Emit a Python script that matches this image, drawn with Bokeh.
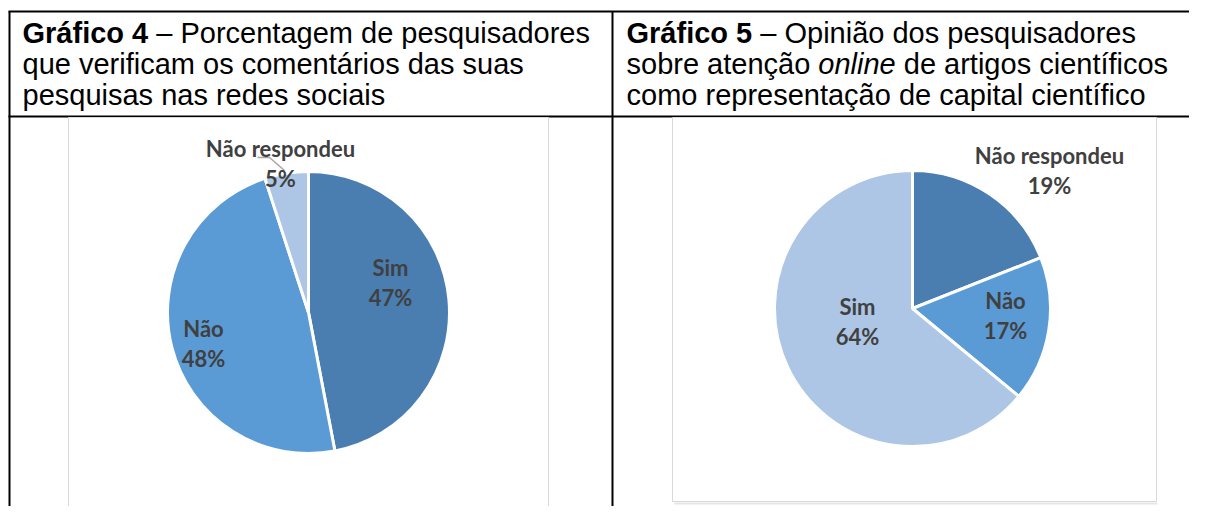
from bokeh.plotting import figure
from bokeh.models import Range1d, ColumnDataSource
from bokeh.core.properties import value
from bokeh.embed import file_html
from bokeh.resources import INLINE
import math

# ---------------- data ----------------
pie1_categories = ["Sim", "Não", "Não respondeu"]
pie1_values = [47, 48, 5]
pie2_categories = ["Não respondeu", "Não", "Sim"]
pie2_values = [19, 17, 64]

title1_bold = "Gráfico 4"
title1_rest = ["– Porcentagem de pesquisadores",
               "que verificam os comentários das suas",
               "pesquisas nas redes sociais"]
title2_bold = "Gráfico 5"
title2_rest = "– Opinião dos pesquisadores"
title2_line2 = ["sobre atenção", "online", "de artigos científicos"]
title2_line3 = "como representação de capital científico"

# ---------------- layout / style ----------------
W, H = 1189, 506
def Y(y):
    return H - y

DARK = "#4a7eb1"
MID = "#5b9bd5"
LIGHT = "#adc6e5"
LABEL = "#404040"
TFONT = value("Liberation Sans")
LFONT = value("Lato")
TS = 29
TSIZE = f"{TS}px"
LSIZE = "22px"

# approximate Arial advance widths (1/1000 em) for placing inline runs
_REG = {" ": 278, "a": 556, "b": 556, "c": 500, "d": 556, "e": 556, "f": 278,
        "g": 556, "i": 222, "l": 222, "m": 833, "n": 556, "o": 556, "p": 556,
        "q": 556, "r": 333, "s": 500, "t": 278, "u": 556, "v": 500, "ç": 500,
        "ã": 556, "á": 556, "í": 278, "–": 556}
_BOLD = {" ": 278, "G": 778, "r": 389, "á": 556, "f": 333, "i": 278, "c": 556,
         "o": 611, "4": 556, "5": 556}
def width(s, bold=False):
    t = _BOLD if bold else _REG
    return sum(t.get(ch, 556) for ch in s) * TS / 1000.0
SP = width(" ")

p = figure(width=W, height=H, output_backend="svg", toolbar_location=None,
           x_range=Range1d(0, W), y_range=Range1d(Y(H), Y(0)),
           min_border=0, outline_line_color=None)
p.axis.visible = False
p.grid.visible = False
p.background_fill_color = "white"
p.border_fill_color = "white"

# table lines
p.segment(x0=[8, 8, 9, 612], y0=[Y(11), Y(116), Y(11), Y(11)],
          x1=[1205, 1205, 9, 612], y1=[Y(11), Y(116), Y(522), Y(522)],
          line_color="black", line_width=2)

# chart boxes
for (x0, x1, y0, y1) in [(68, 548, 117, 510), (672, 1156, 117, 501)]:
    p.segment(x0=[x0 + 2], y0=[Y(y1 + 2)], x1=[x1 + 1], y1=[Y(y1 + 2)],
              line_color="#e6e6e6", line_width=2)
    p.quad(left=x0, right=x1, top=Y(y0), bottom=Y(y1),
           fill_color="white", line_color="#d9d9d9", line_width=1)

def txt(x, y, s, style="normal", font=TFONT, size=TSIZE, color="black", align="left"):
    p.text(x=[x], y=[Y(y)], text=[s], text_font=font, text_font_size=size,
           text_font_style=style, text_color=color, text_align=align,
           text_baseline="middle")

# titles
L1, L2, L3 = 32, 63, 94
x = 22
txt(x, L1, title1_bold, "bold")
txt(x + width(title1_bold, True) + SP, L1, title1_rest[0])
txt(x, L2, title1_rest[1])
txt(x, L3, title1_rest[2])

x = 626
txt(x, L1, title2_bold, "bold")
txt(x + width(title2_bold, True) + SP, L1, title2_rest)
cx = x
txt(cx, L2, title2_line2[0])
cx += width(title2_line2[0]) + SP
txt(cx, L2, title2_line2[1], "italic")
cx += width(title2_line2[1]) + SP
txt(cx, L2, title2_line2[2])
txt(x, L3, title2_line3)

# pies
def pie(cx, cy, r, vals, colors):
    total = float(sum(vals))
    starts, ends = [], []
    cum = 0.0
    for v in vals:
        starts.append(math.pi / 2 - 2 * math.pi * cum / total)
        cum += v
        ends.append(math.pi / 2 - 2 * math.pi * cum / total)
    src = ColumnDataSource(dict(x=[cx] * len(vals), y=[Y(cy)] * len(vals),
                                start=starts, end=ends, color=colors))
    p.wedge(x="x", y="y", radius=r, start_angle="start", end_angle="end",
            direction="clock", fill_color="color", line_color="white",
            line_width=3, source=src)

pie(308, 312, 141, pie1_values, [DARK, MID, LIGHT])
pie(912, 308, 138, pie2_values, [DARK, MID, LIGHT])

# leader line for the small slice
p.line(x=[257, 269, 284], y=[Y(157), Y(157), Y(170)], line_color="#a6a6a6", line_width=1.5)

# labels
label_pos1 = [(390, 267), (203, 328), (280, 148)]
label_pos2 = [(1049, 155), (1005, 300), (857, 306)]
for cats, vals, pos in [(pie1_categories, pie1_values, label_pos1),
                        (pie2_categories, pie2_values, label_pos2)]:
    for c, v, (lx, ly) in zip(cats, vals, pos):
        txt(lx, ly, c, "bold", LFONT, LSIZE, LABEL, "center")
        txt(lx, ly + 30, f"{v}%", "bold", LFONT, LSIZE, LABEL, "center")

open("out.html", "w").write(file_html(p, INLINE))
